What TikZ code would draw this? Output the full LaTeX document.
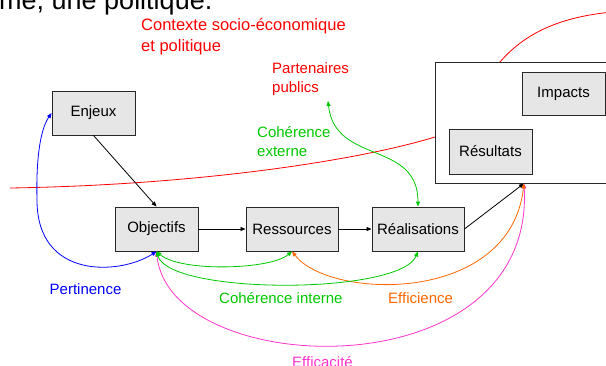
\documentclass[tikz,border=0pt]{standalone}
\usepackage{fontspec}
\setmainfont{Liberation Sans}
\usetikzlibrary{arrows.meta}
\definecolor{cred}{RGB}{255,0,0}
\definecolor{cgreen}{RGB}{0,200,0}
\definecolor{cblue}{RGB}{0,0,255}
\definecolor{corange}{RGB}{255,102,0}
\definecolor{cmag}{RGB}{255,51,204}
\definecolor{boxfill}{RGB}{230,230,230}
\definecolor{boxline}{RGB}{40,40,40}
\tikzset{
  stagebox/.style={draw=boxline, line width=0.9pt, fill=boxfill, minimum height=44pt, inner sep=0pt, font=\fontsize{15}{18}\selectfont},
  lbl/.style={anchor=west, inner sep=0pt, align=left, font=\fontsize{15}{19}\selectfont},
  conn/.style={line width=0.8pt},
  tip/.style={>={Triangle[length=5pt,width=4pt]}},
}
\begin{document}
\begin{tikzpicture}[x=1pt,y=-1pt]
\useasboundingbox (0,0) rectangle (606,365);
\clip (0,0) rectangle (606,365);
% top cut-off text
\node[anchor=base west, inner sep=0pt, font=\fontsize{27}{32}\selectfont] (toptext) at (-1,9) {me, une politique.};
% context curve (behind box)
\coordinate (ra) at (10,188);
\coordinate (rm) at (435,137);
\coordinate (rn) at (500,62);
\coordinate (rz) at (612,12);
\draw[cred, conn] (ra) .. controls (200,185) and (360,160) .. (rm)
  .. controls (465,127) and (480,85) .. (rn)
  .. controls (525,33) and (560,17) .. (rz);
% boxes
\node[draw=boxline, line width=0.9pt, fill=white, minimum width=172pt, minimum height=121pt, inner sep=0pt] (big) at (521,122.5) {};
\node[stagebox, minimum width=83pt, minimum height=43pt] (imp) at (563.5,93.5) {Impacts};
\node[stagebox, minimum width=83pt, minimum height=45pt] (res) at (490.5,151.5) {Résultats};
\node[stagebox, minimum width=83pt] (enj) at (93.5,113) {Enjeux};
\node[stagebox, minimum width=83pt] (obj) at (156.5,229) {Objectifs};
\node[stagebox, minimum width=92pt] (ress) at (292,229) {Ressources};
\node[stagebox, minimum width=92pt] (real) at (418,229) {Réalisations};
\coordinate (rb) at ([xshift=3pt]big.south);
\coordinate (ce) at (328,101);
% labels
\node[lbl, text=cred, font=\fontsize{16.5}{21}\selectfont] (ctx) at (141,36.5) {Contexte socio-économique\\et politique};
\node[lbl, text=cred] (part) at (272,79.5) {Partenaires\\publics};
\node[lbl, text=cgreen] (cext) at (257,142) {Cohérence\\externe};
\node[lbl, text=cblue] (pert) at (49.5,289) {Pertinence};
\node[lbl, text=cgreen] (cint) at (219,297.7) {Cohérence interne};
\node[lbl, text=corange] (effi) at (388,297.7) {Efficience};
\node[lbl, text=cmag] (effa) at (292,361.7) {Efficacité};
% black flow
\draw[conn, tip, ->] (enj.south) -- (obj.north);
\draw[conn, tip, ->] (obj.east) -- (ress.west);
\draw[conn, tip, ->] (ress.east) -- (real.west);
\draw[conn, tip, ->] (real.east) -- (rb);
% evaluation curves
\draw[cmag, conn, tip, <->] (obj.south) .. controls (170,380) and (535,393) .. (rb);
\draw[corange, conn, tip, <->] (ress.south) .. controls (330,300) and (510,305) .. (rb);
\draw[cgreen, conn, tip, <->] (obj.south) .. controls (180,272) and (270,270) .. (ress.south);
\draw[cgreen, conn, tip, <->] (obj.south) .. controls (170,295) and (400,295) .. (real.south);
\draw[cgreen, conn, tip, <->] (ce) .. controls (335,165) and (418,140) .. (real.north);
\draw[cblue, conn, tip, <->] (obj.south) .. controls (120,275) and (37,280) .. (37,200)
  .. controls (36,160) and (40,130) .. (enj.west);
\end{tikzpicture}
\end{document}
